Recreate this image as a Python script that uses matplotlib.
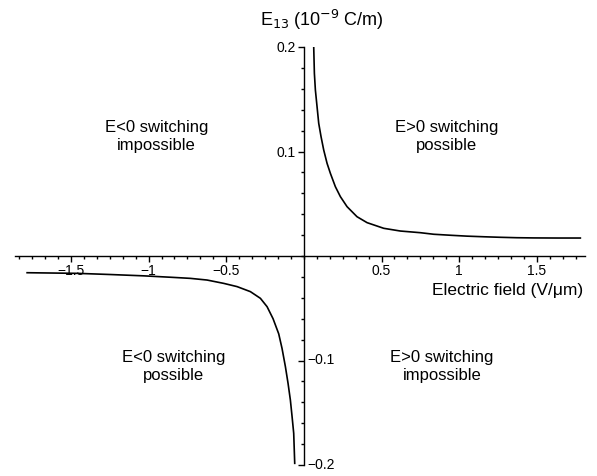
import matplotlib
matplotlib.use("Agg")
import matplotlib.pyplot as plt
from matplotlib.ticker import MultipleLocator, FixedLocator, FuncFormatter

plt.rcParams['font.family'] = ['Liberation Sans', 'DejaVu Sans']

# --- data ---
# E > 0 branch
field_pos = [0.0633, 0.0676, 0.074, 0.0848, 0.0955, 0.1105, 0.1277, 0.1492,
             0.1706, 0.2028, 0.235, 0.278, 0.342, 0.407, 0.514, 0.621, 0.75,
             0.836, 0.95, 1.05, 1.16, 1.265, 1.37, 1.48, 1.63, 1.78]
e13_pos = [0.2003, 0.1748, 0.1589, 0.1429, 0.127, 0.1142, 0.1014, 0.0887,
           0.0791, 0.0663, 0.0568, 0.0472, 0.0376, 0.0319, 0.0265, 0.0239,
           0.0223, 0.0208, 0.0198, 0.019, 0.0184, 0.0179, 0.0175, 0.0173,
           0.0172, 0.0172]
# E < 0 branch
field_neg = [-1.782, -1.62, -1.46, -1.25, -1.03, -0.85, -0.731, -0.6235,
             -0.516, -0.43, -0.3445, -0.28, -0.237, -0.1985, -0.162, -0.1406,
             -0.119, -0.102, -0.087, -0.076, -0.0655, -0.059]
e13_neg = [-0.016, -0.0163, -0.0166, -0.0177, -0.019, -0.0204, -0.0214,
           -0.023, -0.0262, -0.0293, -0.0341, -0.0405, -0.0485, -0.060,
           -0.0745, -0.0885, -0.1059, -0.1218, -0.1378, -0.1537, -0.1697, -0.1984]

x_ticks = [-1.5, -1, -0.5, 0.5, 1, 1.5]
y_ticks_left = [0.1, 0.2]
y_ticks_right = [-0.1, -0.2]

regions = ["E<0 switching\nimpossible", "E>0 switching\npossible",
           "E<0 switching\npossible", "E>0 switching\nimpossible"]
region_x = [-0.95, 0.92, -0.84, 0.89]
region_y = [0.114, 0.114, -0.106, -0.106]

W, H = 597, 476
fig = plt.figure(figsize=(W / 100, H / 100), dpi=100)
ax = fig.add_axes([15 / W, 1 - 465 / H, 570 / W, 418 / H])

ax.plot(field_pos, e13_pos, color='black', lw=1.2)
ax.plot(field_neg, e13_neg, color='black', lw=1.2)

ax.set_xlim(-1.86, 1.81)
ax.set_ylim(-0.2, 0.2)

# axes crossing at the origin
for s in ['top', 'right']:
    ax.spines[s].set_visible(False)
ax.spines['left'].set_position(('data', 0))
ax.spines['bottom'].set_position(('data', 0))
for s in ['left', 'bottom']:
    ax.spines[s].set_linewidth(1.0)

def minus_fmt(v, pos):
    return f"{v:g}".replace('-', '\u2212')

ax.xaxis.set_major_locator(FixedLocator(x_ticks))
ax.xaxis.set_major_formatter(FuncFormatter(minus_fmt))
ax.xaxis.set_minor_locator(MultipleLocator(0.5 / 6))
ax.yaxis.set_major_locator(FixedLocator(y_ticks_left + y_ticks_right))
ax.yaxis.set_major_formatter(FuncFormatter(lambda v, p: f"{v:g}" if v > 0 else ""))
ax.yaxis.set_minor_locator(MultipleLocator(0.02))

ax.tick_params(axis='both', which='major', direction='out', length=4, width=1,
               labelsize=10, pad=2)
ax.tick_params(axis='both', which='minor', direction='out', length=2.5, width=1)

# negative y labels sit on the right of the axis
for v in y_ticks_right:
    ax.annotate(minus_fmt(v, None), xy=(0, v), xycoords='data',
                xytext=(3, 0), textcoords='offset pixels',
                ha='left', va='center', fontsize=10)

ax.annotate("E$_{13}$ (10$^{-9}$ C/m)", xy=(0, 0.2), xycoords='data',
            xytext=(18, 27), textcoords='offset pixels',
            ha='center', va='center', fontsize=13)
ax.annotate("Electric field (V/\u03bcm)", xy=(1.81, 0), xycoords='data',
            xytext=(-2, -35), textcoords='offset pixels',
            ha='right', va='center', fontsize=12.5)

for txt, x, y in zip(regions, region_x, region_y):
    ax.text(x, y, txt, ha='center', va='center', fontsize=12, linespacing=1.25)

fig.savefig("out.png", dpi=100)
